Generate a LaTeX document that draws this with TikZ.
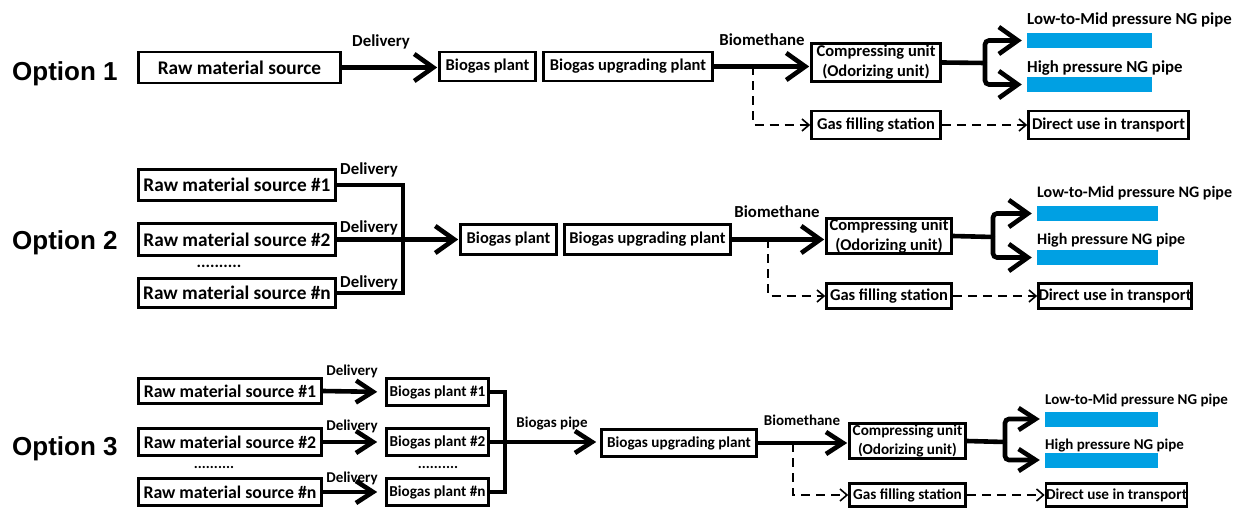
\documentclass[tikz,border=0pt]{standalone}
\usepackage{fontspec}
\setmainfont{Carlito}
\newfontfamily\optfont{Liberation Sans}
\usetikzlibrary{positioning,arrows.meta}
\definecolor{pipeblue}{RGB}{0,160,227}

\begin{document}
\begin{tikzpicture}[x=1pt, y=-1pt,
    box/.style={draw, line width=2.6pt, inner sep=0pt, align=center, font=\bfseries\fontsize{16.5}{20}\selectfont},
    rawbox/.style={box, font=\bfseries\fontsize{19.3}{21}\selectfont},
    smallbox/.style={box, font=\bfseries\fontsize{15.2}{18.5}\selectfont},
    smallraw/.style={box, font=\bfseries\fontsize{17.8}{20}\selectfont},
    tag/.style={inner sep=0pt, anchor=base, font=\bfseries\fontsize{16.8}{18}\selectfont},
    pipetag/.style={tag, font=\bfseries\fontsize{16}{18}\selectfont},
    smalltag/.style={tag, font=\bfseries\fontsize{15}{17}\selectfont},
    opt/.style={inner sep=0pt, anchor=base west, font=\optfont\bfseries\fontsize{26}{28}\selectfont},
    bar/.style={fill=pipeblue, inner sep=0pt, minimum height=15pt},
    flow/.style={line width=4.6pt, shorten >=1pt, -{Straight Barb[length=19pt, width=27pt]}},
    smallflow/.style={flow, -{Straight Barb[length=17pt, width=22pt]}},
    link/.style={line width=4.6pt},
    side/.style={line width=1.6pt, dash pattern=on 9pt off 6pt, -{Straight Barb[length=7pt, width=12pt]}}]
\useasboundingbox (0,0) rectangle (1244,510);

% Option 1
\node[opt] (opt1) at (12,81) {Option 1};
\node[rawbox, minimum width=202pt, minimum height=31pt] (raw1) at (239.5,67.5) {Raw material source};
\node[tag] (del1) at (381,47) {Delivery};
\node[box, minimum width=96pt, minimum height=29pt] (bio1) at (487.5,66.5) {Biogas plant};
\node[box, minimum width=169pt, minimum height=29pt] (upg1) at (628,66.5) {Biogas upgrading plant};
\node[tag] (meth1) at (762,46) {Biomethane};
\node[box, minimum width=129pt, minimum height=38pt] (comp1) at (876,62.5) {Compressing unit\\(Odorizing unit)};
\node[box, minimum width=129pt, minimum height=28pt] (gas1) at (876,125) {Gas filling station};
\node[box, minimum width=160pt, minimum height=28pt] (dir1) at (1108.5,125) {Direct use in transport};
\node[bar, minimum width=125pt] (low1) at (1089.5,40.5) {};
\node[bar, minimum width=125pt] (high1) at (1089.5,84.5) {};
\node[tag, anchor=base west] (lowtag1) at (1027,25) {Low-to-Mid pressure NG pipe};
\node[tag, anchor=base west] (hightag1) at (1027,73) {High pressure NG pipe};
\coordinate (tap1) at (753,66.5);
\coordinate (fork1) at (985,63);

\draw[flow] (raw1.east) -- (raw1.east -| bio1.west);
\draw[flow] (upg1.east) -- (upg1.east -| comp1.west);
\draw[side] (tap1) |- (gas1.west);
\draw[side] (gas1) -- (dir1);
\draw[link] (comp1.east) -- (fork1);
\draw[flow, rounded corners=4pt, shorten >=5pt] (fork1) |- (low1.west);
\draw[flow, rounded corners=4pt, shorten >=5pt] (fork1) |- (high1.west);

% Option 2
\node[opt] (opt2) at (12,250) {Option 2};
\node[rawbox, minimum width=197pt, minimum height=31pt] (raw21) at (237,185) {Raw material source \#1};
\node[rawbox, minimum width=197pt, minimum height=32pt] (raw22) at (237,239.5) {Raw material source \#2};
\node[rawbox, minimum width=197pt, minimum height=29pt] (raw2n) at (237,293) {Raw material source \#n};
\node[tag] (dots2) at (219,268) {..........};
\node[tag] (del21) at (369,175) {Delivery};
\node[tag] (del22) at (369,233) {Delivery};
\node[tag] (del2n) at (369,288) {Delivery};
\node[box, minimum width=96pt, minimum height=30pt] (bio2) at (508.5,239.5) {Biogas plant};
\node[box, minimum width=166pt, minimum height=30pt] (upg2) at (647.5,239.5) {Biogas upgrading plant};
\node[tag] (meth2) at (777,218) {Biomethane};
\node[box, minimum width=125pt, minimum height=35pt] (comp2) at (889,236) {Compressing unit\\(Odorizing unit)};
\node[box, minimum width=125pt, minimum height=25pt] (gas2) at (889,296) {Gas filling station};
\node[box, minimum width=153pt, minimum height=25pt] (dir2) at (1115,296) {Direct use in transport};
\node[bar, minimum width=121pt] (low2) at (1097.5,213.5) {};
\node[bar, minimum width=121pt] (high2) at (1097.5,257.5) {};
\node[pipetag, anchor=base west] (lowtag2) at (1037,198) {Low-to-Mid pressure NG pipe};
\node[pipetag, anchor=base west] (hightag2) at (1037,245) {High pressure NG pipe};
\coordinate (join2) at (403,239.5);
\coordinate (tap2) at (768,239.5);
\coordinate (fork2) at (993,237);

\draw[link] (raw21.east) -| (join2);
\draw[link] (raw2n.east) -| (join2);
\draw[flow] (raw22.east) -- (bio2.west);
\draw[flow] (upg2.east) -- (upg2.east -| comp2.west);
\draw[side] (tap2) |- (gas2.west);
\draw[side] (gas2) -- (dir2);
\draw[link] (comp2.east) -- (fork2);
\draw[flow, rounded corners=4pt, shorten >=5pt] (fork2) |- (low2.west);
\draw[flow, rounded corners=4pt, shorten >=5pt] (fork2) |- (high2.west);

% Option 3
\node[opt] (opt3) at (12,455) {Option 3};
\node[smallraw, minimum width=183pt, minimum height=25pt] (raw31) at (230,391) {Raw material source \#1};
\node[smallraw, minimum width=183pt, minimum height=27pt] (raw32) at (230,442) {Raw material source \#2};
\node[smallraw, minimum width=183pt, minimum height=27pt] (raw3n) at (230,492) {Raw material source \#n};
\node[smalltag] (dots31) at (214,468) {..........};
\node[smallbox, minimum width=102pt, minimum height=27pt] (plant31) at (437.5,392) {Biogas plant \#1};
\node[smallbox, minimum width=102pt, minimum height=27pt] (plant32) at (437.5,442) {Biogas plant \#2};
\node[smallbox, minimum width=102pt, minimum height=27pt] (plant3n) at (437.5,492) {Biogas plant \#n};
\node[smalltag] (dots32) at (438,468) {..........};
\foreach \k/\y in {1/375, 2/430, n/482}
    \node[smalltag] (del3\k) at (352,\y) {Delivery};
\foreach \k in {1,2,n}
    \draw[smallflow, shorten >=8pt] (raw3\k.east) -- (plant3\k.west);
\node[smalltag] (pipe3) at (552,427) {Biogas pipe};
\node[smallbox, minimum width=155pt, minimum height=27pt] (upg3) at (679,443) {Biogas upgrading plant};
\node[smalltag] (meth3) at (802,425) {Biomethane};
\node[smallbox, minimum width=116pt, minimum height=35pt] (comp3) at (907.5,441) {Compressing unit\\(Odorizing unit)};
\node[smallbox, minimum width=116pt, minimum height=23pt] (gas3) at (907.5,495) {Gas filling station};
\node[smallbox, minimum width=140pt, minimum height=23pt] (dir3) at (1116.5,495) {Direct use in transport};
\node[bar, minimum width=113pt] (low3) at (1101.5,419) {};
\node[bar, minimum width=113pt] (high3) at (1101.5,460) {};
\node[smalltag, anchor=base west] (lowtag3) at (1045,404) {Low-to-Mid pressure NG pipe};
\node[smalltag, anchor=base west] (hightag3) at (1045,449) {High pressure NG pipe};
\coordinate (join3) at (505,442);
\coordinate (tap3) at (793,443);
\coordinate (fork3) at (1005,442);

\draw[link] (plant31.east) -| (join3);
\draw[link] (plant3n.east) -| (join3);
\draw[smallflow, shorten >=4pt] (plant32.east) -- (plant32.east -| upg3.west);
\draw[smallflow] (upg3.east) -- (upg3.east -| comp3.west);
\draw[side] (tap3) |- (gas3.west);
\draw[side] (gas3) -- (dir3);
\draw[link] (comp3.east) -- (fork3);
\draw[smallflow, rounded corners=4pt, shorten >=5pt] (fork3) |- (low3.west);
\draw[smallflow, rounded corners=4pt, shorten >=5pt] (fork3) |- (high3.west);
\end{tikzpicture}
\end{document}
